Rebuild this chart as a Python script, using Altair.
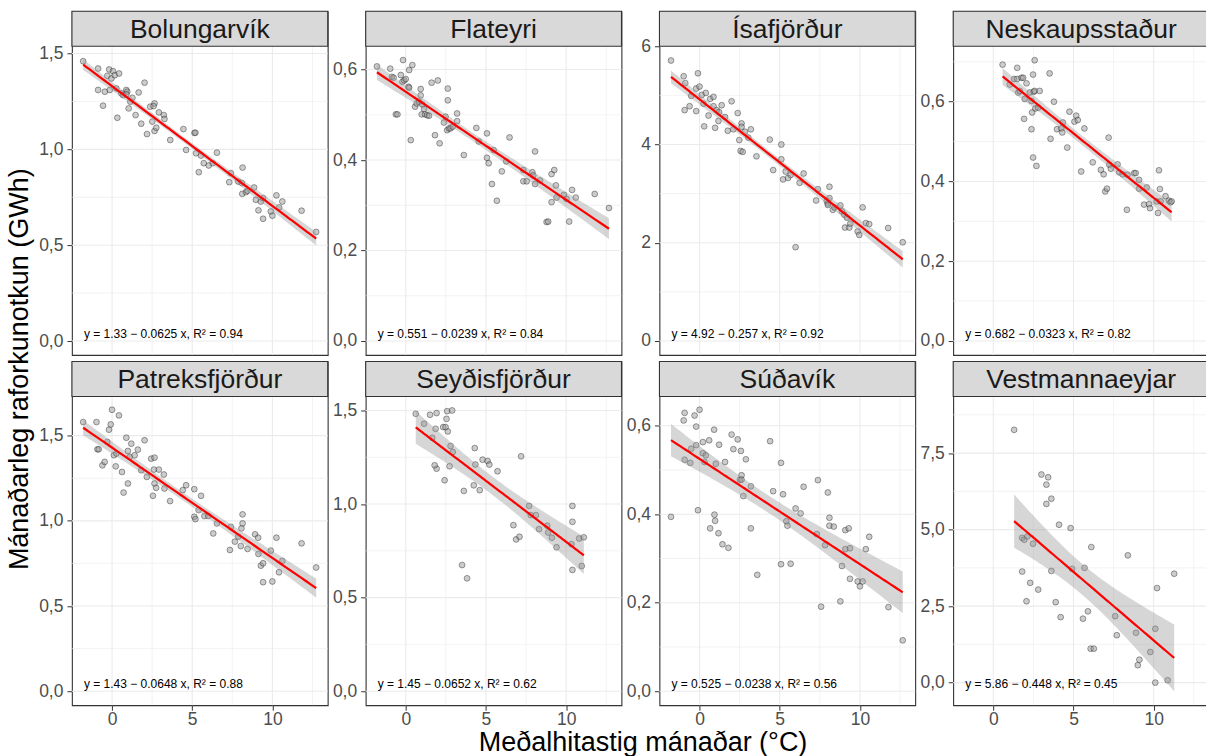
import numpy as np
import pandas as pd
import altair as alt

# Towns, one panel each
stations = ["Bolungarvík", "Flateyri", "Ísafjörður", "Neskaupsstaður",
            "Patreksfjörður", "Seyðisfjörður", "Súðavík", "Vestmannaeyjar"]

# Monthly mean temperature (°C) and monthly electricity use (GWh)
bol_temp = [-1.80, -0.87, -0.87, -0.56, -0.45, -0.18, -0.29, -0.14, -0.04, 0.06,
            0.17, 0.27, 0.44, 0.33, 0.58, 0.69, 0.89, 0.95, 0.89, 1.04,
            1.14, 1.27, 1.47, 1.66, 1.82, 2.03, 2.18, 2.38, 2.51, 2.65,
            2.59, 2.65, 2.76, 2.92, 3.23, 3.27, 3.63, 4.45, 4.62, 5.14,
            5.20, 5.24, 5.41, 5.55, 5.72, 6.03, 6.28, 6.54, 7.31, 7.41,
            7.87, 8.10, 8.14, 8.12, 8.35, 8.45, 8.86, 8.97, 9.13, 9.28,
            9.42, 9.42, 9.90, 10.00, 10.25, 10.42, 10.62, 11.82, 12.73]
bol_gwh = [1.460, 1.422, 1.310, 1.228, 1.301, 1.417, 1.384, 1.310, 1.370, 1.408,
           1.387, 1.318, 1.396, 1.165, 1.292, 1.283, 1.310, 1.301, 1.287, 1.214,
           1.249, 1.269, 1.179, 1.297, 1.134, 1.348, 1.080, 1.223, 1.145, 1.240,
           1.226, 1.096, 1.113, 1.193, 1.179, 1.159, 1.049, 1.106, 0.997, 1.086,
           1.087, 0.980, 0.881, 0.968, 0.928, 0.916, 0.928, 0.983, 0.829, 0.876,
           0.832, 0.824, 0.905, 0.768, 0.777, 0.784, 0.801, 0.737, 0.682, 0.728,
           0.638, 0.746, 0.676, 0.654, 0.760, 0.697, 0.728, 0.680, 0.569]

fla_temp = [-1.80, -0.97, -0.87, -0.76, -0.62, -0.52, -0.31, -0.21, -0.17, -0.10,
            0.00, 0.17, 0.21, 0.21, 0.31, 0.41, 0.58, 0.68, 0.83, 0.93,
            0.93, 0.99, 1.03, 1.14, 1.20, 1.34, 1.45, 1.61, 1.82, 2.00,
            2.11, 2.38, 2.48, 2.58, 2.62, 2.62, 2.69, 2.79, 2.93, 3.20,
            3.20, 3.62, 4.40, 4.55, 5.06, 5.06, 5.17, 5.37, 5.48, 5.68,
            5.99, 6.26, 6.47, 7.33, 7.33, 7.54, 7.89, 7.95, 8.06, 8.06,
            8.37, 8.78, 8.88, 9.09, 9.09, 9.26, 9.36, 9.40, 9.86, 10.02,
            10.19, 10.37, 10.60, 11.78, 12.67]
fla_gwh = [0.607, 0.602, 0.584, 0.582, 0.501, 0.501, 0.588, 0.573, 0.621, 0.576,
           0.579, 0.562, 0.560, 0.599, 0.444, 0.610, 0.518, 0.525, 0.529, 0.543,
           0.557, 0.501, 0.523, 0.513, 0.501, 0.499, 0.498, 0.571, 0.455, 0.576,
           0.437, 0.483, 0.496, 0.466, 0.532, 0.558, 0.470, 0.470, 0.474, 0.486,
           0.503, 0.411, 0.471, 0.441, 0.459, 0.405, 0.393, 0.347, 0.422, 0.310,
           0.375, 0.397, 0.450, 0.378, 0.353, 0.353, 0.373, 0.366, 0.347, 0.419,
           0.355, 0.263, 0.264, 0.307, 0.369, 0.378, 0.344, 0.317, 0.323, 0.314,
           0.264, 0.334, 0.317, 0.325, 0.294]

isa_temp = [-1.78, -0.99, -0.89, -0.93, -0.62, -0.52, -0.21, -0.21, -0.10, 0.00,
            0.14, 0.25, 0.29, 0.39, 0.56, 0.66, 0.87, 0.87, 0.97, 1.07,
            1.18, 1.22, 1.38, 1.59, 1.76, 2.00, 2.11, 2.38, 2.48, 2.56,
            2.62, 2.69, 2.62, 2.83, 3.04, 3.20, 3.55, 4.38, 4.59, 5.10,
            5.10, 5.21, 5.37, 5.52, 5.68, 6.24, 6.49, 7.27, 7.38, 7.93,
            8.00, 8.10, 8.00, 8.10, 8.31, 8.41, 8.78, 8.88, 9.03, 9.07,
            9.19, 9.34, 9.40, 9.86, 9.96, 10.17, 10.37, 10.58, 11.76, 5.99,
            12.67]
isa_gwh = [5.71, 5.39, 5.25, 4.70, 4.78, 4.99, 4.68, 5.14, 5.45, 5.18,
           5.01, 4.83, 4.37, 5.05, 4.59, 4.93, 4.97, 4.78, 4.34, 4.70,
           4.48, 4.66, 4.80, 4.56, 4.28, 4.88, 4.31, 4.64, 4.09, 3.87,
           4.43, 3.85, 4.36, 4.26, 4.14, 4.31, 3.76, 4.10, 3.48, 4.00,
           3.70, 3.29, 3.45, 3.32, 3.38, 3.22, 3.41, 2.86, 3.09, 2.85,
           2.80, 3.14, 2.77, 2.91, 2.67, 2.72, 2.76, 2.64, 2.57, 2.31,
           2.51, 2.31, 2.39, 2.23, 2.16, 2.72, 2.40, 2.38, 2.30, 1.91,
           2.01]

nes_temp = [0.58, 1.03, 1.49, 1.30, 1.49, 1.55, 1.65, 1.76, 1.86, 1.92,
            1.96, 2.07, 2.27, 2.38, 2.38, 2.42, 2.48, 2.48, 2.52, 2.58,
            2.58, 2.62, 2.69, 2.79, 2.89, 3.51, 3.57, 3.78, 3.97, 4.24,
            4.30, 4.34, 4.61, 4.75, 5.06, 5.17, 5.27, 5.48, 5.68, 6.20,
            6.71, 6.88, 6.98, 7.09, 7.19, 7.23, 7.33, 7.75, 7.85, 8.06,
            8.33, 8.37, 8.78, 8.88, 9.09, 9.09, 9.40, 9.57, 9.71, 9.77,
            10.19, 10.27, 10.33, 10.39, 10.43, 10.74, 10.95, 11.05, 11.12]
nes_gwh = [0.693, 0.643, 0.685, 0.657, 0.657, 0.623, 0.627, 0.660, 0.660, 0.557,
           0.607, 0.646, 0.623, 0.602, 0.531, 0.573, 0.668, 0.460, 0.625, 0.704,
           0.627, 0.583, 0.439, 0.585, 0.627, 0.671, 0.507, 0.600, 0.531, 0.533,
           0.523, 0.548, 0.485, 0.575, 0.550, 0.565, 0.554, 0.425, 0.533, 0.448,
           0.429, 0.418, 0.375, 0.382, 0.510, 0.442, 0.432, 0.443, 0.423, 0.418,
           0.329, 0.417, 0.421, 0.421, 0.404, 0.382, 0.342, 0.385, 0.343, 0.333,
           0.350, 0.321, 0.428, 0.381, 0.350, 0.363, 0.352, 0.348, 0.350]

pat_temp = [-1.80, -0.97, -0.91, -0.83, -0.60, -0.46, -0.29, -0.19, -0.08, 0.00,
            0.12, 0.23, 0.27, 0.43, 0.62, 0.72, 0.89, 0.99, 0.99, 1.10,
            1.20, 1.41, 1.61, 1.82, 2.03, 2.17, 2.44, 2.65, 2.61, 2.55,
            2.65, 2.75, 2.92, 3.23, 3.27, 3.62, 4.41, 4.62, 5.13, 5.20,
            5.13, 5.40, 5.55, 5.76, 6.00, 6.31, 6.54, 7.35, 7.41, 7.66,
            7.87, 8.03, 8.07, 8.14, 8.14, 8.45, 8.92, 9.11, 9.13, 9.28,
            9.42, 9.42, 9.90, 10.00, 10.25, 10.41, 10.62, 11.82, 12.73]
pat_gwh = [1.580, 1.580, 1.420, 1.420, 1.326, 1.346, 1.463, 1.535, 1.566, 1.652,
           1.385, 1.320, 1.395, 1.619, 1.287, 1.166, 1.488, 1.219, 1.410, 1.375,
           1.453, 1.385, 1.418, 1.297, 1.473, 1.258, 1.365, 1.371, 1.301, 1.147,
           1.219, 1.194, 1.301, 1.272, 1.190, 1.116, 1.180, 1.209, 1.024, 1.010,
           1.186, 1.063, 1.147, 1.028, 1.028, 0.926, 0.985, 0.829, 0.965, 0.878,
           0.907, 0.852, 0.956, 0.985, 1.038, 0.835, 0.921, 0.901, 0.806, 0.737,
           0.751, 0.640, 0.825, 0.644, 0.901, 0.698, 0.765, 0.868, 0.726]

sey_temp = [0.62, 1.14, 1.51, 1.65, 1.86, 1.92, 1.92, 1.80, 2.42, 2.33,
            2.54, 2.58, 2.62, 2.48, 2.73, 2.79, 2.89, 2.93, 3.62, 3.82,
            3.51, 4.24, 4.30, 4.34, 4.61, 4.79, 5.10, 5.21, 5.72, 6.71,
            6.88, 7.09, 7.19, 7.69, 7.79, 8.12, 8.31, 8.82, 8.88, 9.11,
            9.40, 10.39, 10.39, 10.33, 10.39, 10.81, 10.97, 11.10]
sey_gwh = [1.482, 1.429, 1.477, 1.354, 1.402, 1.486, 1.189, 1.207, 1.127, 1.411,
           1.455, 1.496, 1.388, 1.411, 1.202, 1.310, 1.500, 1.278, 1.070, 0.603,
           0.674, 1.100, 1.299, 1.211, 1.074, 1.237, 1.230, 1.211, 1.175, 0.887,
           0.811, 0.825, 1.255, 0.990, 0.941, 0.941, 0.866, 0.884, 0.848, 0.820,
           0.769, 0.990, 0.905, 0.786, 0.648, 0.816, 0.669, 0.822]

sud_temp = [-1.78, -0.99, -0.93, -0.93, -0.58, -0.52, -0.31, -0.21, -0.21, -0.10,
            0.00, 0.21, 0.21, 0.31, 0.39, 0.60, 0.66, 0.91, 0.93, 0.97,
            1.01, 1.18, 1.22, 1.43, 1.59, 1.80, 2.00, 2.11, 2.38, 2.58,
            2.52, 2.62, 2.62, 2.73, 2.89, 3.20, 3.20, 3.60, 4.40, 4.59,
            5.08, 5.21, 5.41, 5.48, 5.68, 5.08, 5.99, 6.30, 6.49, 7.31,
            7.38, 7.58, 7.83, 8.00, 8.10, 8.10, 8.37, 8.78, 8.88, 9.09,
            9.09, 9.30, 9.38, 9.38, 9.86, 10.00, 10.17, 10.37, 10.58, 11.78,
            12.67]
sud_gwh = [0.394, 0.612, 0.629, 0.523, 0.516, 0.548, 0.623, 0.598, 0.556, 0.409,
           0.636, 0.563, 0.538, 0.518, 0.533, 0.567, 0.368, 0.591, 0.399, 0.385,
           0.514, 0.357, 0.557, 0.332, 0.518, 0.324, 0.580, 0.547, 0.569, 0.543,
           0.478, 0.488, 0.478, 0.441, 0.524, 0.463, 0.368, 0.263, 0.565, 0.452,
           0.516, 0.445, 0.384, 0.374, 0.288, 0.287, 0.413, 0.402, 0.462, 0.355,
           0.477, 0.191, 0.330, 0.449, 0.392, 0.374, 0.372, 0.203, 0.283, 0.364,
           0.321, 0.368, 0.323, 0.254, 0.248, 0.237, 0.248, 0.321, 0.349, 0.190,
           0.115]

ves_temp = [1.30, 3.00, 3.42, 3.31, 3.62, 3.31, 4.10, 4.82, 1.80, 1.93,
            2.13, 2.48, 6.11, 8.39, 1.80, 3.62, 4.91, 5.69, 11.28, 2.30,
            2.80, 10.21, 2.07, 3.89, 4.20, 5.59, 5.90, 7.60, 7.70, 8.90,
            10.10, 9.79, 9.01, 9.11, 6.07, 6.27, 10.10, 10.87]
ves_gwh = [8.26, 6.80, 6.71, 6.47, 6.01, 5.84, 5.16, 5.05, 4.73, 4.67,
           4.78, 4.54, 4.43, 4.16, 3.63, 3.65, 3.72, 3.75, 3.56, 3.26,
           3.04, 3.09, 2.66, 2.63, 2.14, 2.09, 2.33, 2.17, 1.55, 1.63,
           1.76, 1.00, 0.57, 0.75, 1.11, 1.11, 0.00, 0.08]

temps = [bol_temp, fla_temp, isa_temp, nes_temp, pat_temp, sey_temp, sud_temp, ves_temp]
usage = [bol_gwh, fla_gwh, isa_gwh, nes_gwh, pat_gwh, sey_gwh, sud_gwh, ves_gwh]

# Fitted linear models (intercept, slope, R²) as printed in each panel
intercepts = [1.33, 0.551, 4.92, 0.682, 1.43, 1.45, 0.525, 5.86]
slopes = [-0.0625, -0.0239, -0.257, -0.0323, -0.0648, -0.0652, -0.0238, -0.448]
r_squared = [0.94, 0.84, 0.92, 0.82, 0.88, 0.62, 0.56, 0.45]

# Axis set-up: free y scales, shared x scale
x_domain = [-2.5, 13.45]
x_major = [0, 5, 10]
x_minor = [2.5, 7.5, 12.5]
y_domains = [[-0.073, 1.538], [-0.031, 0.6515], [-0.2855, 6.0], [-0.0352, 0.739],
             [-0.0824, 1.730], [-0.075, 1.5746], [-0.0317, 0.666], [-0.738, 9.35]]
y_major = [[0, 0.5, 1.0, 1.5], [0, 0.2, 0.4, 0.6], [0, 2, 4, 6], [0, 0.2, 0.4, 0.6],
           [0, 0.5, 1.0, 1.5], [0, 0.5, 1.0, 1.5], [0, 0.2, 0.4, 0.6], [0, 2.5, 5.0, 7.5]]
y_minor = [[0.25, 0.75, 1.25], [0.1, 0.3, 0.5], [1, 3, 5], [0.1, 0.3, 0.5, 0.7],
           [0.25, 0.75, 1.25], [0.25, 0.75, 1.25], [0.1, 0.3, 0.5], [1.25, 3.75, 6.25, 8.75]]
y_formats = [".1f", ".1f", ".0f", ".1f", ".1f", ".1f", ".1f", ".1f"]

FONT = "Liberation Sans"
W, H, SH = 256, 309, 35      # panel width, plot height, strip height
GRID = "#EBEBEB"
INK = "#333333"


def t975(df):
    """Two-sided 95% Student t quantile (Cornish-Fisher expansion)."""
    z = 1.959964
    g1 = (z**3 + z) / 4
    g2 = (5 * z**5 + 16 * z**3 + 3 * z) / 96
    g3 = (3 * z**7 + 19 * z**5 + 17 * z**3 - 15 * z) / 384
    return z + g1 / df + g2 / df**2 + g3 / df**3


def fmt(v):
    return repr(abs(v))


def panel(i, bottom_row):
    a, b = intercepts[i], slopes[i]
    x = np.asarray(temps[i], dtype=float)
    y = np.asarray(usage[i], dtype=float)
    n = len(x)

    # fitted line with its 95% confidence band
    xs = np.linspace(x.min(), x.max(), 80)
    fit = a + b * xs
    resid = y - (a + b * x)
    s = np.sqrt((resid ** 2).sum() / (n - 2))
    sxx = ((x - x.mean()) ** 2).sum()
    half = t975(n - 2) * s * np.sqrt(1 / n + (xs - x.mean()) ** 2 / sxx)
    band = pd.DataFrame({"x": xs, "y": fit, "lo": fit - half, "hi": fit + half})
    pts = pd.DataFrame({"x": x, "y": y})

    xscale = alt.Scale(domain=x_domain, nice=False, zero=False)
    # the strip sits inside the view, above the plotting range
    yscale = alt.Scale(domain=y_domains[i], nice=False, zero=False, range=[H + SH, SH])
    label_expr = f"replace(format(datum.value, '{y_formats[i]}'), '.', ',')"
    yaxis = alt.Axis(values=y_major[i], labelExpr=label_expr, grid=False, domain=False,
                     tickColor=INK, tickSize=5, tickWidth=1, labelColor="#4D4D4D",
                     labelFontSize=17.5, labelFont=FONT, labelPadding=4, title=None)
    if bottom_row:
        xaxis = alt.Axis(values=x_major, format="d", grid=False, domain=False,
                         tickColor=INK, tickSize=5, tickWidth=1, labelColor="#4D4D4D",
                         labelFontSize=17.5, labelFont=FONT, labelPadding=0, title=None)
    else:
        xaxis = None

    X = alt.X("x:Q", scale=xscale, axis=xaxis)
    Y = alt.Y("y:Q", scale=yscale, axis=yaxis)

    xg_major = alt.Chart(pd.DataFrame({"x": x_major})).mark_rule(color=GRID, strokeWidth=1.1).encode(x=X)
    xg_minor = alt.Chart(pd.DataFrame({"x": x_minor})).mark_rule(color=GRID, strokeWidth=0.6).encode(x=X)
    yg_major = alt.Chart(pd.DataFrame({"y": y_major[i]})).mark_rule(color=GRID, strokeWidth=1.1).encode(y=Y)
    yg_minor = alt.Chart(pd.DataFrame({"y": y_minor[i]})).mark_rule(color=GRID, strokeWidth=0.6).encode(y=Y)

    dots = alt.Chart(pts).mark_circle(
        size=34, fill="#9A9A9A", fillOpacity=0.5, stroke="#000000",
        strokeOpacity=0.45, strokeWidth=0.8
    ).encode(x=X, y=Y)

    ci = alt.Chart(band).mark_area(color="#999999", opacity=0.4).encode(
        x=X, y=alt.Y("lo:Q", scale=yscale, axis=yaxis), y2="hi:Q")
    line = alt.Chart(band).mark_line(color="#FF0000", strokeWidth=2.2).encode(x=X, y=Y)

    label = f"y = {fmt(a)} − {fmt(b)} x, R² = {r_squared[i]}"
    eq = alt.Chart(pd.DataFrame({"label": [label]})).mark_text(
        align="left", baseline="middle", fontSize=12, font=FONT, color="#000000"
    ).encode(x=alt.value(12), y=alt.value(H + SH - 21.5), text="label:N")

    strip_df = pd.DataFrame({"name": [stations[i]]})
    strip_box = alt.Chart(strip_df).mark_rect(fill="#D9D9D9", stroke=INK, strokeWidth=1.1).encode(
        x=alt.value(0), x2=alt.value(W), y=alt.value(0), y2=alt.value(SH))
    strip_txt = alt.Chart(strip_df).mark_text(
        fontSize=26.5, font=FONT, color="#1A1A1A", baseline="middle"
    ).encode(text="name:N", x=alt.value(W / 2), y=alt.value(SH / 2 + 1))

    return alt.layer(xg_minor, xg_major, yg_minor, yg_major, dots, ci, line, eq,
                     strip_box, strip_txt).properties(width=W, height=H + SH)


panels = [panel(i, i >= 4) for i in range(8)]

grid = alt.concat(*panels, columns=4, spacing={"row": 6.5, "column": 38},
                  bounds="flush").properties(
    title=alt.TitleParams("Mánaðarleg raforkunotkun (GWh)", orient="left", anchor="middle",
                          frame="bounds", fontSize=27, font=FONT, fontWeight="normal",
                          color="#000000", offset=4))

chart = alt.hconcat(grid).properties(
    title=alt.TitleParams("Meðalhitastig mánaðar (°C)", orient="bottom", anchor="middle",
                          frame="bounds", fontSize=27, font=FONT, fontWeight="normal",
                          color="#000000", offset=2, dx=35),
    padding={"left": 6, "top": 9, "right": -5, "bottom": 0},
    background="#FFFFFF",
).configure_view(stroke=INK, strokeWidth=1.1)

chart.save("out.html", embed_options={"renderer": "svg", "actions": False})
